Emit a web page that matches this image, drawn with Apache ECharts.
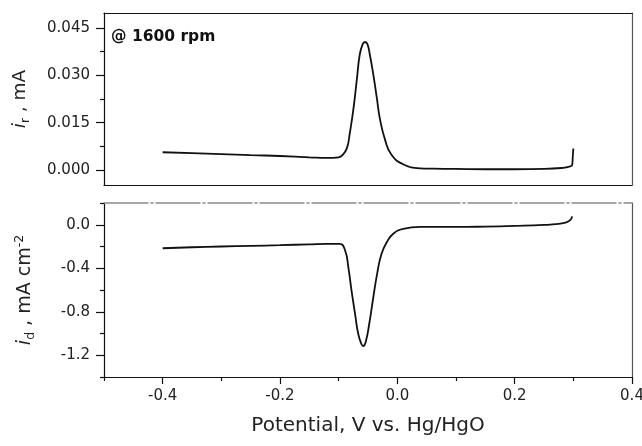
<!DOCTYPE html>
<html>
<head>
<meta charset="utf-8">
<script src="https://cdn.jsdelivr.net/npm/echarts@6/dist/echarts.min.js"></script>
<style>html,body{margin:0;padding:0;background:#fff}#c{width:642px;height:446px}</style>
</head>
<body>
<div id="c"></div>
<script>
// Ring current (top panel)
var potentialRing = [-0.400,-0.350,-0.300,-0.250,-0.200,-0.150,-0.120,-0.100,-0.094,-0.086,-0.081,-0.075,-0.069,-0.064,-0.059,-0.055,-0.051,-0.047,-0.041,-0.035,-0.030,-0.021,-0.010,0.010,0.039,0.060,0.100,0.150,0.200,0.250,0.280,0.293,0.298,0.299,0.300];
var ringCurrent = [0.0056,0.0053,0.0050,0.0047,0.0044,0.0040,0.0038,0.0040,0.0046,0.0069,0.0117,0.0191,0.0287,0.0367,0.0399,0.0406,0.0399,0.0367,0.0303,0.0229,0.0165,0.0096,0.0048,0.0018,0.0005,0.0004,0.0003,0.0002,0.0002,0.0003,0.0006,0.0010,0.0016,0.0040,0.0068];
// Disk current density (bottom panel)
var potentialDisk = [-0.400,-0.350,-0.300,-0.250,-0.200,-0.150,-0.120,-0.098,-0.089,-0.0835,-0.078,-0.072,-0.0665,-0.061,-0.058,-0.0535,-0.048,-0.041,-0.034,-0.027,-0.018,-0.007,0.010,0.039,0.100,0.150,0.200,0.250,0.275,0.288,0.295,0.298];
var diskCurrent = [-0.216,-0.207,-0.200,-0.194,-0.188,-0.180,-0.176,-0.176,-0.237,-0.392,-0.607,-0.822,-1.007,-1.099,-1.115,-1.069,-0.915,-0.669,-0.438,-0.268,-0.161,-0.083,-0.037,-0.020,-0.020,-0.017,-0.011,-0.002,0.008,0.022,0.045,0.077];
// Ticks
var xMajorTicks = [-0.4,-0.2,0.0,0.2,0.4];
var xMinorTicks = [-0.5,-0.3,-0.1,0.1,0.3];
var ringMajorTicks = [0.000,0.015,0.030,0.045];
var ringMinorTicks = [0.0075,0.0225,0.0375];
var diskMajorTicks = [0.0,-0.4,-0.8,-1.2];
var diskMinorTicks = [0.2,-0.2,-0.6,-1.0,-1.4];
var annotation = '@ 1600 rpm';

function pairs(xs, ys){ return xs.map(function(x,i){ return [x, ys[i]]; }); }

var FONT = 'DejaVu Sans';
var dark = '#111';
var X_MIN = -0.5, X_MAX = 0.4;
var R_MIN = -0.0048, R_MAX = 0.0498;
var D_MIN = -1.4, D_MAX = 0.2;

var topRect = {left:104, top:13, width:528, height:172};
var botRect = {left:104, top:203, width:528, height:174};
function rect(r){ return {left:r.left, top:r.top, width:r.width, height:r.height, show:false, containLabel:false, outerBoundsMode:'none'}; }

var hiddenX = function(grid, min, max){ return {type:'value', gridIndex:grid, min:min, max:max, show:false, splitLine:{show:false}}; };

var chart = echarts.init(document.getElementById('c'), null, {renderer:'canvas'});
chart.setOption({
  animation:false,
  backgroundColor:'#fff',
  title:{text:annotation, left:106, top:24, textStyle:{fontFamily:FONT, fontWeight:'bold', fontSize:15.5, color:dark}},
  grid:[rect(topRect), rect(botRect), rect(topRect), rect(botRect)],
  xAxis:[
    {type:'value', gridIndex:0, min:X_MIN, max:X_MAX, position:'bottom',
     axisLine:{show:true, onZero:false, lineStyle:{color:dark, width:1.2}}, axisTick:{show:false}, axisLabel:{show:false}, splitLine:{show:false}},
    {type:'value', gridIndex:0, min:X_MIN, max:X_MAX, position:'top',
     axisLine:{show:true, onZero:false, lineStyle:{color:dark, width:1.2}}, axisTick:{show:false}, axisLabel:{show:false}, splitLine:{show:false}},
    {type:'value', gridIndex:1, min:X_MIN, max:X_MAX, position:'bottom',
     axisLine:{show:true, onZero:false, lineStyle:{color:dark, width:1.2}},
     axisTick:{show:true, inside:false, length:7, customValues:xMajorTicks, lineStyle:{color:dark, width:1.2}},
     axisLabel:{show:true, customValues:xMajorTicks, margin:12, fontFamily:FONT, fontSize:15, color:'#222',
       formatter:function(v){ return v.toFixed(1); }},
     splitLine:{show:false},
     name:'Potential, V vs. Hg/HgO', nameLocation:'middle', nameGap:39,
     nameTextStyle:{fontFamily:FONT, fontSize:20, color:'#222'}},
    {type:'value', gridIndex:1, min:X_MIN, max:X_MAX, position:'top',
     axisLine:{show:true, onZero:false, lineStyle:{color:'#8a8a8a', width:1.5, type:[44,3,2,3]}}, axisTick:{show:false}, axisLabel:{show:false}, splitLine:{show:false}},
    hiddenX(2, X_MIN, X_MAX),
    {type:'value', gridIndex:3, min:X_MIN, max:X_MAX, position:'bottom',
     axisLine:{show:false, onZero:false},
     axisTick:{show:true, inside:false, length:4, customValues:xMinorTicks, lineStyle:{color:dark, width:1.2}},
     axisLabel:{show:false}, splitLine:{show:false}}
  ],
  yAxis:[
    {type:'value', gridIndex:0, min:R_MIN, max:R_MAX, position:'left',
     axisLine:{show:true, onZero:false, lineStyle:{color:dark, width:1.2}},
     axisTick:{show:true, inside:false, length:8, customValues:ringMajorTicks, lineStyle:{color:dark, width:1.2}},
     axisLabel:{show:true, customValues:ringMajorTicks, margin:14, fontFamily:FONT, fontSize:15, color:'#222',
       formatter:function(v){ return v.toFixed(3); }},
     splitLine:{show:false},
     name:'{i|i}{s|r}{n| , mA}', nameLocation:'middle', nameGap:72, nameRotate:90,
     nameTextStyle:{fontFamily:FONT, fontSize:18, color:'#222',
       rich:{i:{fontFamily:FONT, fontSize:18.5, fontStyle:'italic', color:'#222', lineHeight:24, verticalAlign:'middle'},
             s:{fontFamily:FONT, fontSize:12, color:'#222', lineHeight:24, verticalAlign:'bottom'},
             n:{fontFamily:FONT, fontSize:18.5, color:'#222', lineHeight:24, verticalAlign:'middle'}}}},
    {type:'value', gridIndex:0, min:R_MIN, max:R_MAX, position:'right',
     axisLine:{show:true, onZero:false, lineStyle:{color:'#555', width:1.2}}, axisTick:{show:false}, axisLabel:{show:false}, splitLine:{show:false}},
    {type:'value', gridIndex:1, min:D_MIN, max:D_MAX, position:'left',
     axisLine:{show:true, onZero:false, lineStyle:{color:dark, width:1.2}},
     axisTick:{show:true, inside:false, length:8, customValues:diskMajorTicks, lineStyle:{color:dark, width:1.2}},
     axisLabel:{show:true, customValues:diskMajorTicks, margin:14, fontFamily:FONT, fontSize:15, color:'#222',
       formatter:function(v){ return v.toFixed(1); }},
     splitLine:{show:false},
     name:'{i|i}{s|d}{n| , mA cm}{p|-2}', nameLocation:'middle', nameGap:67, nameRotate:90,
     nameTextStyle:{fontFamily:FONT, fontSize:18, color:'#222',
       rich:{i:{fontFamily:FONT, fontSize:19, fontStyle:'italic', color:'#222', lineHeight:24, verticalAlign:'middle'},
             s:{fontFamily:FONT, fontSize:12.5, color:'#222', lineHeight:24, verticalAlign:'bottom'},
             n:{fontFamily:FONT, fontSize:19, color:'#222', lineHeight:24, verticalAlign:'middle'},
             p:{fontFamily:FONT, fontSize:12.5, color:'#222', lineHeight:24, verticalAlign:'top'}}}},
    {type:'value', gridIndex:1, min:D_MIN, max:D_MAX, position:'right',
     axisLine:{show:true, onZero:false, lineStyle:{color:'#555', width:1.2}}, axisTick:{show:false}, axisLabel:{show:false}, splitLine:{show:false}},
    {type:'value', gridIndex:2, min:R_MIN, max:R_MAX, position:'left',
     axisLine:{show:false, onZero:false},
     axisTick:{show:true, inside:false, length:4, customValues:ringMinorTicks, lineStyle:{color:dark, width:1.2}},
     axisLabel:{show:false}, splitLine:{show:false}},
    {type:'value', gridIndex:3, min:D_MIN, max:D_MAX, position:'left',
     axisLine:{show:false, onZero:false},
     axisTick:{show:true, inside:false, length:4, customValues:diskMinorTicks, lineStyle:{color:dark, width:1.2}},
     axisLabel:{show:false}, splitLine:{show:false}}
  ],
  series:[
    {type:'line', xAxisIndex:0, yAxisIndex:0, data:pairs(potentialRing, ringCurrent),
     showSymbol:false, smooth:0.5, lineStyle:{color:dark, width:1.8}},
    {type:'line', xAxisIndex:2, yAxisIndex:2, data:pairs(potentialDisk, diskCurrent),
     showSymbol:false, smooth:0.5, lineStyle:{color:dark, width:1.8}}
  ]
});
</script>
</body>
</html>
